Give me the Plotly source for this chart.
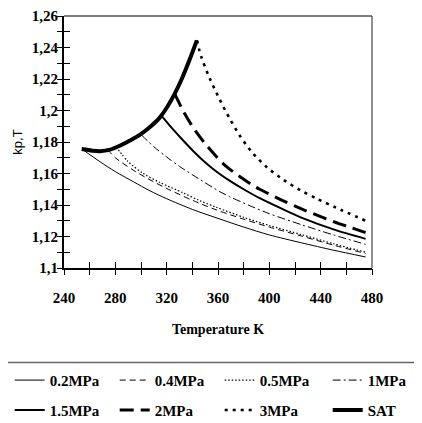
import plotly.graph_objects as go

# ---------------- data ----------------
T_02 = [254, 268, 280, 294, 307, 320, 340, 360, 380, 400, 425, 450, 475]
K_02 = [1.1755, 1.1675, 1.1612, 1.1548, 1.1490, 1.1440, 1.1372, 1.1315, 1.1260, 1.1210, 1.1160, 1.1113, 1.1070]

T_04 = [274, 280, 294, 307, 320, 340, 359, 380, 400, 425, 450, 475]
K_04 = [1.1751, 1.1700, 1.1621, 1.1560, 1.1505, 1.1430, 1.1368, 1.1310, 1.1260, 1.1203, 1.1145, 1.1092]

T_05 = [280.5, 290, 301.6, 315, 332.7, 345, 358.8, 380, 400, 425, 450, 475]
K_05 = [1.1770, 1.1675, 1.1601, 1.1542, 1.1478, 1.1430, 1.1385, 1.1322, 1.1270, 1.1212, 1.1154, 1.1100]

T_1 = [300.3, 310, 319.8, 330, 340.5, 361.3, 369, 385, 400, 425, 450, 475]
K_1 = [1.1845, 1.1770, 1.1706, 1.1645, 1.1590, 1.1485, 1.1453, 1.1395, 1.1345, 1.1275, 1.1210, 1.1150]

T_15 = [315.9, 325, 332.7, 341, 351, 360, 369, 380, 392.5, 410, 425, 450, 475]
K_15 = [1.1968, 1.1880, 1.1811, 1.1740, 1.1664, 1.1605, 1.1555, 1.1500, 1.1443, 1.1375, 1.1320, 1.1245, 1.1185]

T_2 = [326.3, 333, 340, 350, 365.7, 386.5, 392.5, 410, 425, 450, 475]
K_2 = [1.2105, 1.1995, 1.1900, 1.1790, 1.1650, 1.1528, 1.1500, 1.1430, 1.1375, 1.1295, 1.1225]

T_3 = [343.5, 347, 353.5, 361.3, 369, 377, 387, 398, 411, 424, 437, 452, 475]
K_3 = [1.2445, 1.2340, 1.2205, 1.2070, 1.1950, 1.1840, 1.1730, 1.1640, 1.1560, 1.1495, 1.1440, 1.1383, 1.1300]

T_SAT = [253.8, 262, 268, 276, 283.5, 291, 299, 307, 314.6, 321, 326.3, 332, 338, 343.5]
K_SAT = [1.1755, 1.1745, 1.1742, 1.1752, 1.1776, 1.1808, 1.1845, 1.1895, 1.1955, 1.2030, 1.2107, 1.2205, 1.2325, 1.2445]

NAMES = ["0.2MPa", "0.4MPa", "0.5MPa", "1MPa", "1.5MPa", "2MPa", "3MPa", "SAT"]
X_TITLE = "Temperature K"
Y_TITLE = "kp,T"

# ---------------- layout geometry ----------------
# the page body has an 8px default margin; figure offset compensated below
OFF = 8
W, H = 422 - OFF, 423 - OFF
PLOT_L, PLOT_R, PLOT_T, PLOT_B = 64.3, 372.3, 15.5, 268.3   # target screen pixels
ML = PLOT_L - OFF
MR = W - (PLOT_R - OFF)
MT = PLOT_T - OFF
MB = H - (PLOT_B - OFF)
PW, PH = W - ML - MR, H - MT - MB


def pxx(px):
    return (px - OFF - ML) / PW


def pxy(py):
    return 1 - (py - OFF - MT) / PH


series = [
    (T_02, K_02, dict(width=1, dash="solid")),
    (T_04, K_04, dict(width=1, dash="6px,4px")),
    (T_05, K_05, dict(width=1.2, dash="1.5px,2px")),
    (T_1, K_1, dict(width=1, dash="8px,3px,2px,3px")),
    (T_15, K_15, dict(width=2, dash="solid")),
    (T_2, K_2, dict(width=3, dash="14px,7px")),
    (T_3, K_3, dict(width=2.6, dash="3px,5px")),
    (T_SAT, K_SAT, dict(width=4, dash="solid")),
]

# legend slots: (left edge of line sample in screen px, row centre in screen px)
LEG_POS = [(15, 381), (120, 381), (225, 381), (333, 381),
           (15, 411), (120, 411), (225, 411), (333, 411)]

fig = go.Figure()
legend_layouts = {}
legfont = dict(family="Liberation Serif", size=15, color="black", weight=700)
for i, (tx, ky, ln) in enumerate(series):
    key = "legend" if i == 0 else f"legend{i + 1}"
    fig.add_trace(go.Scatter(
        x=tx, y=ky, mode="lines", name=NAMES[i],
        line=dict(color="black", shape="spline", smoothing=0.8, **ln),
        legend=key, hoverinfo="skip",
    ))
    sx, sy = LEG_POS[i]
    legend_layouts[key] = dict(
        x=pxx(sx - 5), xanchor="left", y=pxy(sy), yanchor="middle",
        font=legfont, bgcolor="rgba(0,0,0,0)", itemwidth=30, borderwidth=0,
    )

# invisible helper trace so the overlay axes (outer half of cross ticks) exist
fig.add_trace(go.Scatter(x=[], y=[], xaxis="x2", yaxis="y2", showlegend=False, hoverinfo="skip"))

tickfont = dict(family="Liberation Serif", size=15, color="black", weight=700)

common_x = dict(range=[240, 480], tick0=240, dtick=40, showgrid=False, zeroline=False)
common_y = dict(range=[1.1, 1.26], tick0=1.1, dtick=0.02, showgrid=False, zeroline=False)

fig.update_layout(
    width=W, height=H,
    margin=dict(l=ML, r=MR, t=MT, b=MB, autoexpand=False),
    paper_bgcolor="white", plot_bgcolor="white",
    separators=",.",
    xaxis=dict(
        **common_x,
        ticks="inside", ticklen=6, tickwidth=1.4, tickcolor="black",
        minor=dict(dtick=20, ticks="inside", ticklen=6, tickwidth=1.4, tickcolor="black"),
        showline=True, linewidth=2, linecolor="black",
        tickfont=tickfont, ticklabelstandoff=15,
        title=dict(text=X_TITLE, font=dict(family="Liberation Serif", size=14, color="black", weight=700), standoff=19),
    ),
    xaxis2=dict(
        **common_x, overlaying="x", anchor="y", side="bottom",
        ticks="outside", ticklen=6, tickwidth=1.4, tickcolor="black",
        minor=dict(dtick=20, ticks="outside", ticklen=6, tickwidth=1.4, tickcolor="black"),
        showticklabels=False, showline=False,
    ),
    yaxis=dict(
        **common_y,
        ticks="inside", ticklen=6, tickwidth=1.4, tickcolor="black",
        minor=dict(dtick=0.01, ticks="inside", ticklen=6, tickwidth=1.4, tickcolor="black"),
        showline=True, linewidth=2, linecolor="black",
        tickfont=tickfont, ticklabelstandoff=1,
        title=dict(text=Y_TITLE, font=dict(family="Liberation Sans", size=13, color="black"), standoff=6),
    ),
    yaxis2=dict(
        **common_y, overlaying="y", anchor="x", side="left",
        ticks="outside", ticklen=6, tickwidth=1.4, tickcolor="black",
        minor=dict(dtick=0.01, ticks="outside", ticklen=6, tickwidth=1.4, tickcolor="black"),
        showticklabels=False, showline=False,
    ),
    shapes=[
        dict(type="line", xref="paper", yref="paper", x0=0, x1=1, y0=1, y1=1,
             line=dict(color="black", width=1.2)),
        dict(type="line", xref="paper", yref="paper", x0=1, x1=1, y0=0, y1=1,
             line=dict(color="#444", width=1.2)),
        dict(type="line", xref="paper", yref="paper", x0=pxx(0), x1=pxx(422), y0=pxy(363), y1=pxy(363),
             line=dict(color="#666", width=1.5)),
    ],
    showlegend=True,
    **legend_layouts,
)

fig.write_html("out.html")
